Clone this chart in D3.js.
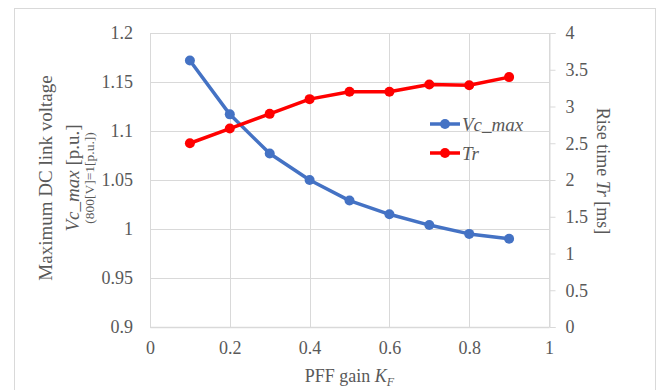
<!DOCTYPE html>
<html>
<head>
<meta charset="utf-8">
<script src="https://cdn.jsdelivr.net/npm/d3@7"></script>
<style>
  html, body { margin: 0; padding: 0; background: #fff; }
  svg { display: block; font-family: "Liberation Serif", "Times New Roman", serif; }
</style>
</head>
<body>
<div id="chart"></div>
<script>
// PFF gain values (x)
const gains = [0.1, 0.2, 0.3, 0.4, 0.5, 0.6, 0.7, 0.8, 0.9];
// maximum DC link voltage [p.u.]
const vcMax = [1.172, 1.117, 1.077, 1.050, 1.029, 1.015, 1.004, 0.995, 0.990];
// rise time [ms]
const riseTime = [2.5, 2.7, 2.9, 3.1, 3.2, 3.2, 3.3, 3.29, 3.4];

const xTicks = [0, 0.2, 0.4, 0.6, 0.8, 1];
const leftTicks = [0.9, 0.95, 1, 1.05, 1.1, 1.15, 1.2];
const rightTicks = [0, 0.5, 1, 1.5, 2, 2.5, 3, 3.5, 4];

const width = 667;
const height = 390;
const grey = '#595959';
const gridColor = '#d9d9d9';
const blue = '#4472c4';
const red = '#ff0000';

const svg = d3.select('#chart')
  .append('svg')
    .attr('width', width)
    .attr('height', height);

// chart border
svg.append('rect')
  .attr('x', 14.5).attr('y', 8.5)
  .attr('width', 641).attr('height', 390)
  .attr('fill', 'none')
  .attr('stroke', gridColor);

const plot = { left: 150, right: 549, top: 33, bottom: 327 };

const x = d3.scaleLinear().domain([0, 1]).range([plot.left, plot.right]);
const yL = d3.scaleLinear().domain([0.9, 1.2]).range([plot.bottom, plot.top]);
const yR = d3.scaleLinear().domain([0, 4]).range([plot.bottom, plot.top]);

// gridlines
svg.append('g')
  .selectAll('line.h')
  .data(leftTicks)
  .join('line')
    .attr('x1', plot.left).attr('x2', plot.right)
    .attr('y1', d => Math.round(yL(d)) + 0.5)
    .attr('y2', d => Math.round(yL(d)) + 0.5)
    .attr('stroke', gridColor);

svg.append('g')
  .selectAll('line.v')
  .data(xTicks)
  .join('line')
    .attr('y1', plot.top).attr('y2', plot.bottom)
    .attr('x1', d => Math.round(x(d)) + 0.5)
    .attr('x2', d => Math.round(x(d)) + 0.5)
    .attr('stroke', gridColor);

function styleAxis(g) {
  g.attr('font-family', null).attr('font-size', null);
  g.select('.domain').attr('stroke', gridColor);
  g.selectAll('.tick line').attr('stroke', gridColor);
  g.selectAll('text').attr('fill', grey).style('font-size', '18px');
}

// bottom axis
const xAxis = d3.axisBottom(x).tickValues(xTicks).tickSize(0).tickPadding(14)
  .tickFormat(d3.format('~g'));
const xAxisGroup = svg.append('g')
  .attr('transform', `translate(0,${plot.bottom})`)
  .call(xAxis)
  .call(styleAxis);
xAxisGroup.select('.domain').attr('stroke-width', 1.5);

// left axis
const yAxisL = d3.axisLeft(yL).tickValues(leftTicks).tickSize(0).tickPadding(17)
  .tickFormat(d3.format('~g'));
svg.append('g')
  .attr('transform', `translate(${plot.left},0)`)
  .call(yAxisL)
  .call(styleAxis);

// right axis
const yAxisR = d3.axisRight(yR).tickValues(rightTicks).tickSize(6).tickPadding(10)
  .tickFormat(d3.format('~g'));
svg.append('g')
  .attr('transform', `translate(${plot.right + 0.5},0)`)
  .call(yAxisR)
  .call(styleAxis);

// series
const lineL = d3.line().x((d, i) => x(gains[i])).y(d => yL(d));
const lineR = d3.line().x((d, i) => x(gains[i])).y(d => yR(d));

svg.append('path')
  .datum(vcMax)
  .attr('d', lineL)
  .attr('fill', 'none')
  .attr('stroke', blue)
  .attr('stroke-width', 3.5)
  .attr('stroke-linejoin', 'round');
svg.append('g')
  .selectAll('circle')
  .data(vcMax)
  .join('circle')
    .attr('cx', (d, i) => x(gains[i]))
    .attr('cy', d => yL(d))
    .attr('r', 5)
    .attr('fill', blue);

svg.append('path')
  .datum(riseTime)
  .attr('d', lineR)
  .attr('fill', 'none')
  .attr('stroke', red)
  .attr('stroke-width', 3.5)
  .attr('stroke-linejoin', 'round');
svg.append('g')
  .selectAll('circle')
  .data(riseTime)
  .join('circle')
    .attr('cx', (d, i) => x(gains[i]))
    .attr('cy', d => yR(d))
    .attr('r', 5)
    .attr('fill', red);

// legend
const legendItems = [
  { name: 'Vc_max', color: blue, y: 124 },
  { name: 'Tr', color: red, y: 153 }
];
const legend = svg.append('g').selectAll('g')
  .data(legendItems)
  .join('g')
    .attr('transform', d => `translate(430,${d.y})`);
legend.append('line')
  .attr('x1', 0).attr('x2', 30)
  .attr('stroke', d => d.color)
  .attr('stroke-width', 3.5);
legend.append('circle')
  .attr('cx', 15).attr('r', 5)
  .attr('fill', d => d.color);
legend.append('text')
  .attr('x', 32).attr('dy', '0.35em')
  .attr('fill', grey)
  .style('font-size', '19px')
  .style('font-style', 'italic')
  .text(d => d.name);

// left axis title
const leftTitle = svg.append('g')
  .attr('transform', `translate(0,${(plot.top + plot.bottom) / 2 - 2}) rotate(-90)`)
  .attr('text-anchor', 'middle')
  .attr('fill', grey);
leftTitle.append('text')
  .attr('y', 52)
  .style('font-size', '19px')
  .text('Maximum DC link voltage');
const t2 = leftTitle.append('text')
  .attr('y', 79)
  .style('font-size', '19px');
t2.append('tspan').style('font-style', 'italic').text('Vc_max');
t2.append('tspan').text(' [p.u.]');
leftTitle.append('text')
  .attr('y', 94)
  .style('font-size', '13.5px')
  .text('(800[V]=1[p.u.])');

// right axis title
const rightTitle = svg.append('text')
  .attr('transform', `translate(597,171) rotate(90)`)
  .attr('text-anchor', 'middle')
  .attr('fill', grey)
  .style('font-size', '18px');
rightTitle.append('tspan').text('Rise time ');
rightTitle.append('tspan').style('font-style', 'italic').text('Tr');
rightTitle.append('tspan').text(' [ms]');

// x axis title
const xTitle = svg.append('text')
  .attr('x', (plot.left + plot.right) / 2)
  .attr('y', 382)
  .attr('text-anchor', 'middle')
  .attr('fill', grey)
  .style('font-size', '18px');
xTitle.append('tspan').text('PFF gain ');
xTitle.append('tspan').style('font-style', 'italic').text('K');
xTitle.append('tspan').style('font-style', 'italic').style('font-size', '12px')
  .attr('dy', 4).text('F');
</script>
</body>
</html>
